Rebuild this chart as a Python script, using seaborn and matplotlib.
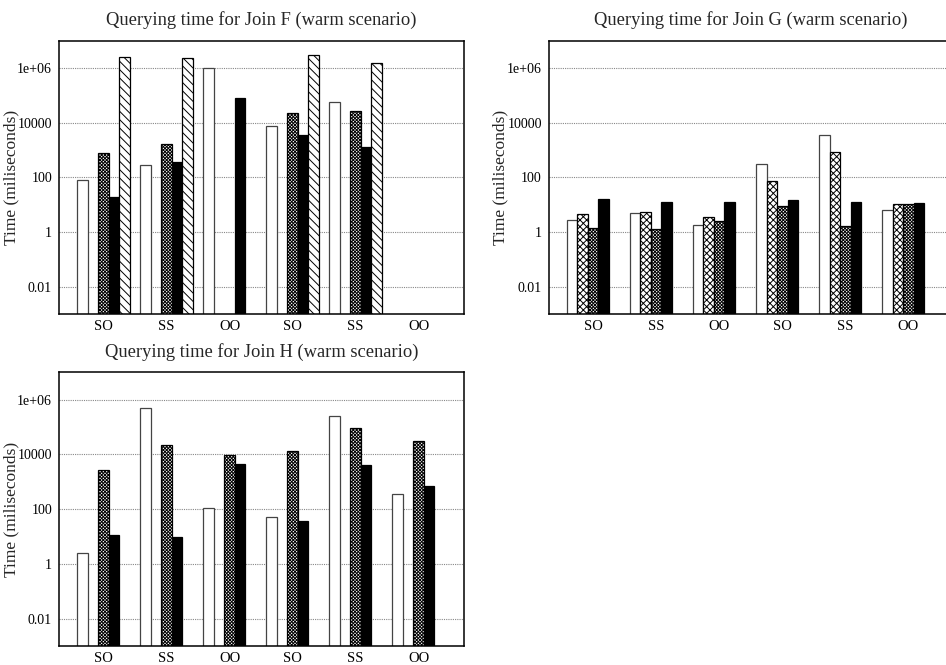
import numpy as np
import pandas as pd
import matplotlib
matplotlib.use("Agg")
import matplotlib.pyplot as plt
import seaborn as sns

# Column pairs along the x axis (two blocks of three)
pairs = ["SO", "SS", "OO", "SO", "SS", "OO"]
series = ["plain", "cross", "dense", "solid", "diagonal"]
nan = np.nan

# Join F, warm scenario (ms)
f_plain = [82, 282, 1.0e6, 7500, 56600, nan]
f_cross = [nan, nan, nan, nan, nan, nan]
f_dense = [790, 1700, nan, 21700, 26600, nan]
f_solid = [19.6, 363, 81000, 3600, 1290, nan]
f_diagonal = [2.5e6, 2.3e6, nan, 2.95e6, 1.55e6, nan]

# Join G, warm scenario (ms)
g_plain = [2.75, 4.8, 1.74, 308, 3400, 6.2]
g_cross = [4.5, 5.4, 3.5, 75, 813, 10.6]
g_dense = [1.44, 1.24, 2.6, 8.9, 1.6, 10.8]
g_solid = [16.1, 12.8, 12.1, 14.8, 12.8, 11.8]
g_diagonal = [nan, nan, nan, nan, nan, nan]

# Join H, warm scenario (ms)
h_plain = [2.6, 480000, 112, 52, 260000, 345]
h_cross = [nan, nan, nan, nan, nan, nan]
h_dense = [2600, 22000, 9500, 13600, 89000, 30000]
h_solid = [11.8, 10, 4500, 38, 4200, 675]
h_diagonal = [nan, nan, nan, nan, nan, nan]

ytick_vals = [0.01, 1, 100, 1e4, 1e6]
ytick_labels = ["0.01", "1", "100", "10000", "1e+06"]

panels = [
    ("Querying time for Join F (warm scenario)",
     [f_plain, f_cross, f_dense, f_solid, f_diagonal]),
    ("Querying time for Join G (warm scenario)",
     [g_plain, g_cross, g_dense, g_solid, g_diagonal]),
    ("Querying time for Join H (warm scenario)",
     [h_plain, h_cross, h_dense, h_solid, h_diagonal]),
]

sns.set_style("white")
plt.rcParams["font.family"] = ["Liberation Serif", "DejaVu Serif"]
plt.rcParams["hatch.linewidth"] = 0.7
plt.rcParams["hatch.color"] = "black"

# Temporary distinct colours so every bar can be traced back to its series
key_colors = ["#1f77b4", "#ff7f0e", "#2ca02c", "#d62728", "#9467bd"]
styles = {
    "plain": dict(face="white", hatch=None, edge="#444444"),
    "cross": dict(face="white", hatch="xxxxx", edge="black"),
    "dense": dict(face="white", hatch="xxxxxxxxxx", edge="black"),
    "solid": dict(face="black", hatch=None, edge="black"),
    "diagonal": dict(face="white", hatch="\\\\\\\\", edge="black"),
}

fig = plt.figure(figsize=(9.46, 6.65), dpi=100)
W, H = 946.0, 665.0
boxes = [
    (59, 40.7, 464, 314),
    (548.7, 40.7, 953.7, 314),
    (59, 372.3, 464, 646),
]

for (title, vals), (x0, y0, x1, y1) in zip(panels, boxes):
    ax = fig.add_axes([x0 / W, 1 - y1 / H, (x1 - x0) / W, (y1 - y0) / H])
    rows = []
    for name, v in zip(series, vals):
        for gi, val in enumerate(v):
            if not np.isnan(val):
                rows.append({"group": gi, "series": name, "time": val})
    df = pd.DataFrame(rows)
    sns.barplot(data=df, x="group", y="time", hue="series",
                order=list(range(len(pairs))), hue_order=series,
                palette=dict(zip(series, key_colors)),
                width=5 / 6, errorbar=None, legend=False, ax=ax,
                linewidth=0.9, saturation=1)
    lut = {matplotlib.colors.to_hex(c): s for c, s in zip(key_colors, series)}
    for p in ax.patches:
        name = lut.get(matplotlib.colors.to_hex(p.get_facecolor()))
        if name is None:
            continue
        st = styles[name]
        p.set_facecolor(st["face"])
        p.set_edgecolor(st["edge"])
        if st["hatch"]:
            p.set_hatch(st["hatch"])
        p.set_linewidth(0.9)

    ax.set_yscale("log")
    ax.set_ylim(1e-3, 1e7)
    ax.set_xlim(-0.706, 5.72)
    ax.set_yticks(ytick_vals)
    ax.set_yticklabels(ytick_labels)
    ax.minorticks_off()
    ax.set_xticks(range(len(pairs)))
    ax.set_xticklabels(pairs)
    ax.tick_params(axis="y", length=0, labelsize=10, pad=5, colors="black")
    ax.tick_params(axis="x", length=0, labelsize=10.5, pad=4, colors="black")
    ax.set_axisbelow(True)
    ax.yaxis.grid(True, linestyle=(0, (1, 1)), color="#888888", linewidth=0.8)
    ax.xaxis.grid(False)
    for sp in ax.spines.values():
        sp.set_color("black")
        sp.set_linewidth(1.1)
    ax.set_xlabel("")
    ax.set_ylabel("Time (miliseconds)", fontsize=12.5)
    ax.yaxis.set_label_coords(-40.0 / (x1 - x0), 0.5)
    ax.set_title(title, fontsize=13.3, pad=11)

fig.savefig("out.png", dpi=100)
